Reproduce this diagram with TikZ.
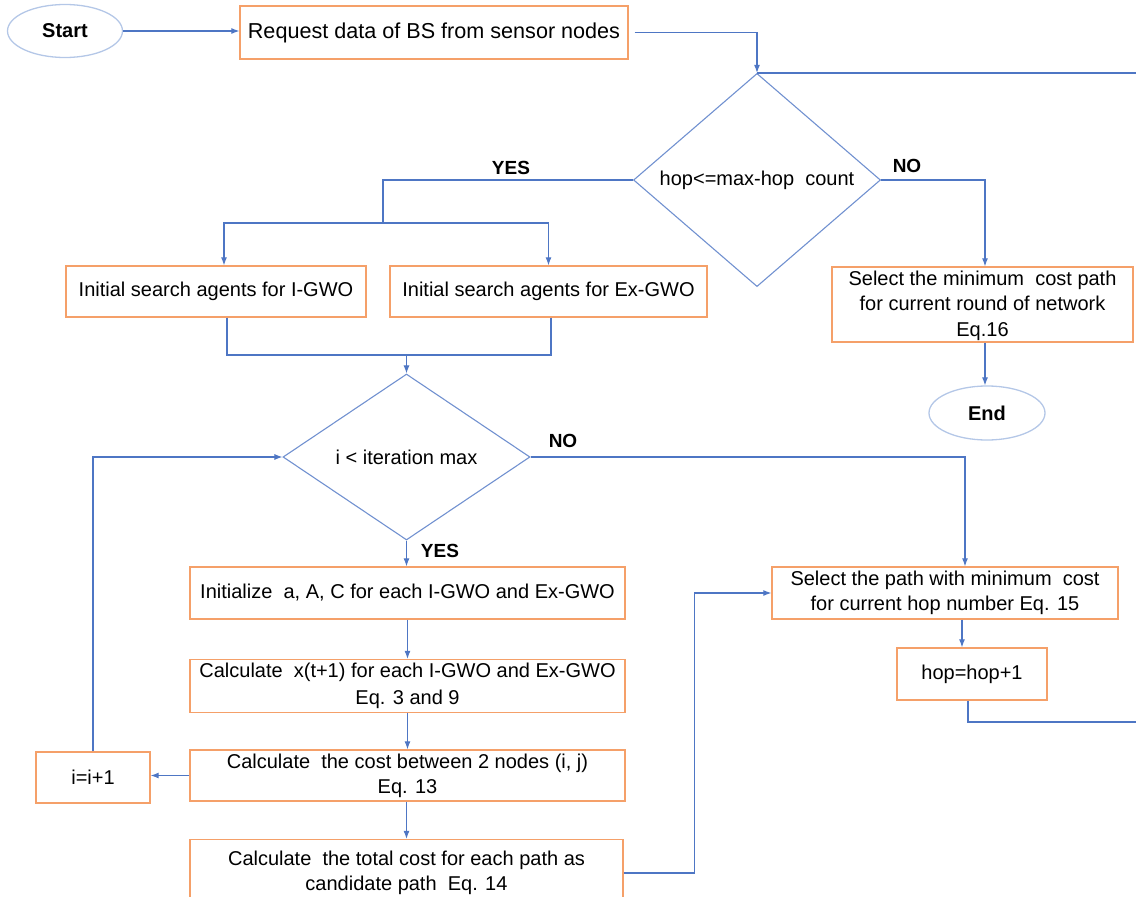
\documentclass[tikz,border=0pt]{standalone}
\usepackage{fontspec}
\setmainfont{Liberation Sans}
\usetikzlibrary{shapes.geometric,arrows.meta}
\definecolor{flowblue}{RGB}{78,118,196}
\definecolor{boxorange}{RGB}{245,160,105}
\definecolor{termblue}{RGB}{180,199,231}
\tikzset{
  box/.style={draw=boxorange, line width=1.4pt, rectangle, inner sep=0pt,
    align=center, font=\fontsize{20}{25}\selectfont},
  term/.style={draw=termblue, line width=1.3pt, ellipse, inner sep=0pt,
    minimum width=115pt, minimum height=53pt, font=\fontsize{20}{24}\selectfont\bfseries},
  dec/.style={draw=flowblue!80, line width=1.1pt, diamond, inner sep=0pt,
    minimum width=247pt, minimum height=166pt, font=\fontsize{20}{24}\selectfont},
  conn/.style={draw=flowblue, line width=1.05pt},
  arr/.style={conn, -{Latex[length=8pt,width=6pt]}},
  lbl/.style={font=\fontsize{19}{22}\selectfont\bfseries, inner sep=0pt}
}
\begin{document}
\begin{tikzpicture}[x=1pt,y=-1pt]
\useasboundingbox (0,0) rectangle (1136,897);
\clip (0,0) rectangle (1136,897);

% terminals
\node[term] (start) at (65,31) {Start};
\node[term, minimum width=116pt, minimum height=54pt] (end) at (987,413) {End};

% process boxes
\node[box, minimum width=388pt, minimum height=53pt, font=\fontsize{21.6}{25}\selectfont] (req) at (434,32.5) {Request data of BS from sensor nodes};
\node[box, minimum width=301pt, minimum height=75pt, font=\fontsize{20}{25.5}\selectfont] (sel) at (982.5,304.5)
  {\raisebox{0pt}[17pt][0pt]{}Select the minimum\ \ cost path\\for current round of network\\Eq.16};
\node[box, minimum width=300pt, minimum height=51pt] (igwo) at (216,291.5) {Initial search agents for I-GWO};
\node[box, minimum width=317pt, minimum height=51pt] (exgwo) at (548.5,291.5) {Initial search agents for Ex-GWO};
\node[box, minimum width=435pt, minimum height=52pt] (init) at (407.5,593) {Initialize\ \ a, A, C for each I-GWO and Ex-GWO};
\node[box, minimum width=435pt, minimum height=53pt, font=\fontsize{20}{27}\selectfont] (calcx) at (407.5,686) {Calculate\ \ x(t+1) for each I-GWO and Ex-GWO\\Eq. 3 and 9};
\node[box, minimum width=435pt, minimum height=51pt] (cost) at (407.5,775.5) {Calculate\ \ the cost between 2 nodes (i, j)\\Eq. 13};
\node[box, minimum width=114pt, minimum height=51pt] (inc) at (93,777.5) {i=i+1};
\node[box, minimum width=433pt, minimum height=67pt] (total) at (406.5,873) {Calculate\ \ the total cost for each path as\\candidate path\ \ Eq. 14};
\node[box, minimum width=346pt, minimum height=52pt] (selpath) at (945,593) {Select the path with minimum\ \ cost\\for current hop number Eq. 15};
\node[box, minimum width=150pt, minimum height=52pt] (hop) at (972,674) {hop=hop+1};

% decisions
\node[dec] (d1) at (757,180) {hop<=max-hop\ \ count};
\node[dec] (d2) at (406.5,457) {i < iteration max};

% branch labels
\node[lbl] (yes1) at (511,168) {YES};
\node[lbl] (no1) at (907,166) {NO};
\node[lbl] (no2) at (563,441) {NO};
\node[lbl] (yes2) at (440,551) {YES};

% junction points
\coordinate (ysplit) at (383,223);
\coordinate (merge) at (406.5,355);
\coordinate (loopin) at (757,73);
\coordinate (loopout) at (1160,722);

% connectors
\draw[arr] (start.east) -- (start.east -| req.west);
\draw[arr] ([xshift=6pt]req.east) -| (d1.north);
\draw[conn] ([xshift=-4pt]hop.south) |- (loopout) |- (loopin);
\draw[arr] (d1.east) -| ([xshift=2.5pt]sel.north);
\draw[arr] ([xshift=2.5pt]sel.south) -- ([xshift=2.5pt]sel.south |- end.north);
\draw[conn] (d1.west) -| (ysplit);
\draw[arr] (ysplit) -| ([xshift=8pt]igwo.north);
\draw[arr] (ysplit) -| (exgwo.north);
\draw[conn] ([xshift=11pt]igwo.south) |- (merge);
\draw[conn] ([xshift=2.5pt]exgwo.south) |- (merge);
\draw[arr] (merge) -- (d2.north);
\draw[arr] (d2.south) -- (d2.south |- init.north);
\draw[arr] (calcx.north |- init.south) -- (calcx.north);
\draw[arr] (calcx.south) -- (calcx.south |- cost.north);
\draw[arr] ([xshift=-1pt]cost.south) -- ([xshift=-1pt]cost.south |- total.north);
\draw[arr] (cost.west) -- (cost.west -| inc.east);
\draw[arr] (inc.north) |- (d2.west);
\draw[arr] (d2.east) -| ([xshift=20pt]selpath.north);
\draw[arr] (total.east) -- ++(71,0) |- (selpath.west);
\draw[arr] ([xshift=-10pt]hop.north |- selpath.south) -- ([xshift=-10pt]hop.north);
\end{tikzpicture}
\end{document}
